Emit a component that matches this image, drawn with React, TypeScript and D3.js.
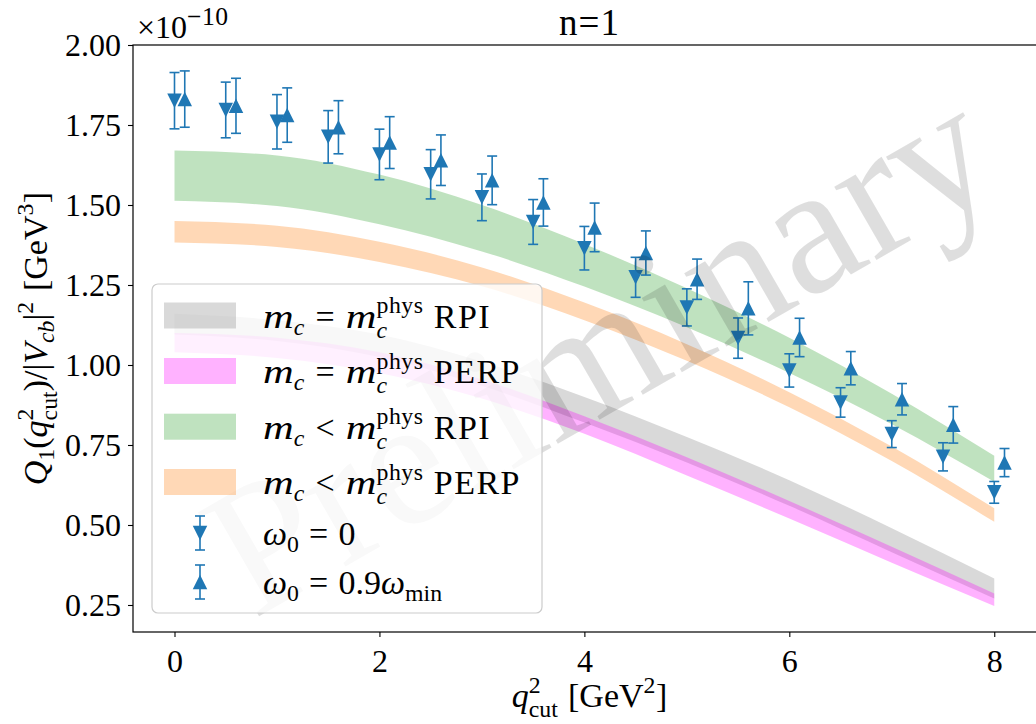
import React, { useEffect, useRef } from "react";
import * as d3 from "d3";

const W = 1036;
const H = 724;

// theory bands, sampled at q^2_cut = 0..8 GeV^2
const bandQ = [0, 1, 2, 3, 4, 5, 6, 7, 8];
const grayHi = [1.16, 1.14, 1.095, 1.01, 0.9, 0.775, 0.64, 0.49, 0.333];
const grayLo = [1.095, 1.075, 1.025, 0.935, 0.82, 0.695, 0.56, 0.415, 0.27];
const pinkHi = [1.1, 1.085, 1.04, 0.955, 0.84, 0.712, 0.575, 0.432, 0.286];
const pinkLo = [1.04, 1.022, 0.975, 0.895, 0.785, 0.655, 0.52, 0.382, 0.247];
const greenHi = [1.67, 1.655, 1.595, 1.5, 1.378, 1.24, 1.085, 0.91, 0.716];
const greenLo = [1.513, 1.497, 1.44, 1.355, 1.245, 1.118, 0.975, 0.815, 0.635];
const orangeHi = [1.45, 1.435, 1.385, 1.305, 1.195, 1.065, 0.915, 0.745, 0.552];
const orangeLo = [1.383, 1.369, 1.322, 1.246, 1.14, 1.013, 0.868, 0.7, 0.51];

// lattice points, omega_0 = 0
const qDown = [0, 0.5, 1, 1.5, 2, 2.5, 3, 3.5, 4, 4.5, 5, 5.5, 6, 6.5, 7, 7.5, 8];
const valDown = [1.826, 1.797, 1.76, 1.713, 1.658, 1.596, 1.524, 1.447, 1.365, 1.274, 1.18, 1.084, 0.983, 0.883, 0.784, 0.713, 0.602];
const errDown = [0.088, 0.087, 0.085, 0.082, 0.079, 0.077, 0.073, 0.07, 0.068, 0.0625, 0.058, 0.063, 0.052, 0.046, 0.042, 0.044, 0.034];

// lattice points, omega_0 = 0.9 omega_min
const qUp = [0.1, 0.6, 1.1, 1.6, 2.1, 2.6, 3.1, 3.6, 4.1, 4.6, 5.1, 5.6, 6.1, 6.6, 7.1, 7.6, 8.1];
const valUp = [1.831, 1.81, 1.781, 1.743, 1.695, 1.64, 1.577, 1.508, 1.43, 1.35, 1.268, 1.177, 1.086, 0.99, 0.893, 0.813, 0.695];
const errUp = [0.088, 0.086, 0.085, 0.083, 0.081, 0.079, 0.076, 0.074, 0.076, 0.069, 0.063, 0.083, 0.06, 0.052, 0.049, 0.057, 0.044];

const xTicks = [0, 2, 4, 6, 8];
const yTicks = [0.25, 0.5, 0.75, 1.0, 1.25, 1.5, 1.75, 2.0];

const FONT = "Liberation Serif, DejaVu Serif, serif";
const C0 = "#1f77b4";

type Tok = {
  t: string; it?: boolean; sx?: number; ls?: number;
  sup?: string; sub?: string; subIt?: boolean; scr?: number;
  pad?: number; padAfter?: number;
};

// poor man's mathtext: base glyphs with stacked sub/superscripts
function mathLabel(parent: any, toks: Tok[], fs: number, x: number, y: number, anchor: string, rot = 0) {
  const g = parent.append("g").attr("transform", `translate(${x},${y}) rotate(${rot})`);
  const inner = g.append("g");
  let cx = 0;
  toks.forEach((tk) => {
    cx += (tk.pad || 0) * fs;
    const sx = tk.sx || 1;
    const t = inner.append("text")
      .attr("transform", `translate(${cx},0) scale(${sx},1)`)
      .style("font-family", FONT).style("font-size", fs + "px")
      .style("font-style", tk.it ? "italic" : "normal")
      .style("letter-spacing", (tk.ls || 0) + "px")
      .text(tk.t);
    cx += t.node().getComputedTextLength() * sx;
    const scr = tk.scr || 0.7;
    let w = 0;
    if (tk.sup) {
      const s = inner.append("text")
        .attr("x", cx).attr("y", -fs * 0.42)
        .style("font-family", FONT).style("font-size", fs * scr + "px")
        .style("letter-spacing", "0.5px")
        .text(tk.sup);
      w = Math.max(w, s.node().getComputedTextLength());
    }
    if (tk.sub) {
      const s = inner.append("text")
        .attr("x", cx).attr("y", fs * (tk.sup ? 0.3 : 0.22))
        .style("font-family", FONT).style("font-size", fs * scr + "px")
        .style("font-style", tk.subIt ? "italic" : "normal")
        .text(tk.sub);
      w = Math.max(w, s.node().getComputedTextLength());
    }
    cx += w + (tk.padAfter || 0) * fs;
  });
  if (anchor === "middle") inner.attr("transform", `translate(${-cx / 2},0)`);
  return g;
}

function triPath(cx: number, cy: number, s: number, down: boolean) {
  const h = s / 2;
  return down
    ? `M${cx},${cy + h}L${cx - h},${cy - h}L${cx + h},${cy - h}Z`
    : `M${cx},${cy - h}L${cx - h},${cy + h}L${cx + h},${cy + h}Z`;
}

export default function App() {
  const ref = useRef<SVGSVGElement>(null);

  useEffect(() => {
    const svg = d3.select(ref.current);
    svg.selectAll("*").remove();

    const left = 133, right = 1046, top = 45, bottom = 632;
    const x = d3.scaleLinear().domain([-0.405, 8.505]).range([left, right]);
    const y = d3.scaleLinear().domain([0.1656, 2.0]).range([bottom, top]);

    svg.append("rect").attr("width", W).attr("height", H).attr("fill", "#fff");

    const bands = [
      { hi: grayHi, lo: grayLo, color: "#808080" },
      { hi: pinkHi, lo: pinkLo, color: "#ff00ff" },
      { hi: greenHi, lo: greenLo, color: "#2ca02c" },
      { hi: orangeHi, lo: orangeLo, color: "#ff7f0e" },
    ];
    const area = d3.area<number>()
      .x((q) => x(q))
      .curve(d3.curveMonotoneX);
    bands.forEach((b) => {
      svg.append("path")
        .attr("d", area.y0((_q, i) => y(b.lo[i])).y1((_q, i) => y(b.hi[i]))(bandQ))
        .attr("fill", b.color)
        .attr("fill-opacity", 0.3);
    });

    // error bars
    const drawErr = (g: any, px: number, py: number, e: number, down: boolean) => {
      g.append("line").attr("x1", px).attr("x2", px).attr("y1", py - e).attr("y2", py + e)
        .attr("stroke", C0).attr("stroke-width", 1.6);
      [py - e, py + e].forEach((cy) => {
        g.append("line").attr("x1", px - 5).attr("x2", px + 5).attr("y1", cy).attr("y2", cy)
          .attr("stroke", C0).attr("stroke-width", 1.6);
      });
      g.append("path").attr("d", triPath(px, py, 14.5, down)).attr("fill", C0);
    };
    const pts = svg.append("g");
    qDown.forEach((q, i) => drawErr(pts, x(q), y(valDown[i]), y(valDown[i] - errDown[i]) - y(valDown[i]), true));
    qUp.forEach((q, i) => drawErr(pts, x(q), y(valUp[i]), y(valUp[i] - errUp[i]) - y(valUp[i]), false));

    // watermark
    svg.append("text")
      .attr("transform", `translate(${(left + right) / 2 + 8},${(top + bottom) / 2 + 8}) rotate(-30)`)
      .attr("text-anchor", "middle").attr("dy", "0.35em")
      .style("font-family", FONT).style("font-size", "184px")
      .attr("fill", "#000").attr("fill-opacity", 0.13)
      .text("Preliminary");

    // axes
    const yAx = svg.append("g").attr("transform", `translate(${left},0)`)
      .call(d3.axisLeft(y).tickValues(yTicks).tickSize(5).tickPadding(7).tickFormat(d3.format(".2f")));
    const xAx = svg.append("g").attr("transform", `translate(0,${bottom})`)
      .call(d3.axisBottom(x).tickValues(xTicks).tickSize(5).tickPadding(12).tickFormat(d3.format("d")));
    [yAx, xAx].forEach((a) => {
      a.attr("font-family", null).attr("font-size", null);
      a.select(".domain").remove();
      a.selectAll("line").attr("stroke", "#000").attr("stroke-width", 1.1);
      a.selectAll("text").style("font-family", FONT).style("font-size", "32px").attr("fill", "#000");
    });
    svg.append("rect").attr("x", left).attr("y", top).attr("width", right - left).attr("height", bottom - top)
      .attr("fill", "none").attr("stroke", "#000").attr("stroke-width", 1.2);

    // legend
    const lg = svg.append("g");
    lg.append("rect").attr("x", 152).attr("y", 284).attr("width", 390).attr("height", 329).attr("rx", 6)
      .attr("fill", "#fff").attr("fill-opacity", 0.8).attr("stroke", "#cccccc").attr("stroke-width", 1.2);
    const rows = [315.5, 371, 426.7, 482, 533, 582];
    bands.forEach((b, i) => {
      lg.append("rect").attr("x", 164).attr("y", rows[i] - 13).attr("width", 72).attr("height", 26)
        .attr("fill", b.color).attr("fill-opacity", 0.3);
    });
    const lgPts = lg.append("g");
    drawErr(lgPts, 200, rows[4], 17, true);
    drawErr(lgPts, 200, rows[5], 17, false);
    const mc = (rel: string, kind: string): Tok[] => [
      { t: "m", it: true, sx: 1.25, sub: "c", subIt: true },
      { t: rel, pad: 0.33, padAfter: 0.33 },
      { t: "m", it: true, sx: 1.25, sub: "c", subIt: true, sup: "phys" },
      { t: kind, pad: 0.3, ls: 1.5 },
    ];
    const labels: Tok[][] = [
      mc("=", "RPI"),
      mc("=", "PERP"),
      mc("<", "RPI"),
      mc("<", "PERP"),
      [{ t: "ω", it: true, sub: "0" }, { t: "=", pad: 0.3, padAfter: 0.3 }, { t: "0" }],
      [{ t: "ω", it: true, sub: "0" }, { t: "=", pad: 0.3, padAfter: 0.3 }, { t: "0.9" }, { t: "ω", it: true, sub: "min" }],
    ];
    labels.forEach((l, i) => mathLabel(lg, l, 34, 263, rows[i] + 12, "start"));

    // titles and labels
    svg.append("text").attr("x", (left + right) / 2).attr("y", 35).attr("text-anchor", "middle")
      .style("font-family", FONT).style("font-size", "37px").style("letter-spacing", "1px").text("n=1");
    mathLabel(svg, [{ t: "×10", sup: "−10", scr: 0.8 }], 32, 137, 38, "start");
    mathLabel(svg, [
      { t: "q", it: true, sup: "2", sub: "cut" },
      { t: "[GeV", pad: 0.3, sup: "2" },
      { t: "]" },
    ], 34, (left + right) / 2, 707, "middle");
    mathLabel(svg, [
      { t: "Q", it: true, sub: "1" },
      { t: "(" },
      { t: "q", it: true, sup: "2", sub: "cut" },
      { t: ")/|" },
      { t: "V", it: true, sub: "cb", subIt: true },
      { t: "|", sup: "2" },
      { t: "[GeV", pad: 0.3, sup: "3" },
      { t: "]" },
    ], 34, 47, (top + bottom) / 2, "middle", -90);
  }, []);

  return <svg ref={ref} width={W} height={H} style={{ position: "absolute", left: 0, top: 0 }} />;
}
